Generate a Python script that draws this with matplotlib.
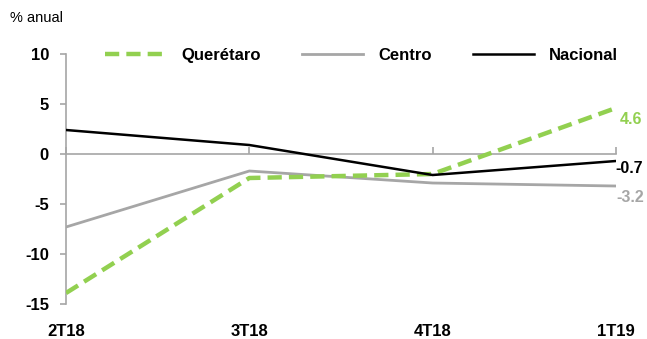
import matplotlib.pyplot as plt
from matplotlib import transforms

quarters = ['2T18', '3T18', '4T18', '1T19']
queretaro = [-13.9, -2.4, -2.0, 4.6]
centro = [-7.3, -1.7, -2.9, -3.2]
nacional = [2.4, 0.9, -2.1, -0.7]

green = '#92D050'
grey = '#A6A6A6'
font = ['Liberation Sans', 'DejaVu Sans']

plt.rcParams['font.family'] = font

fig = plt.figure(figsize=(6.47, 3.39), dpi=100)
ax = fig.add_axes([0.102, 0.1032, 0.850, 0.7375])

x = range(len(quarters))
ax.plot(x, queretaro, color=green, lw=3.2, dashes=(3.2, 1.6), label='Querétaro', zorder=3)
ax.plot(x, centro, color=grey, lw=2.0, label='Centro', zorder=2)
ax.plot(x, nacional, color='black', lw=1.8, label='Nacional', zorder=4)

ax.set_xlim(0, 3)
ax.set_ylim(-15, 10)
ax.set_yticks([10, 5, 0, -5, -10, -15])
ax.set_yticklabels(['10', '5', '0', '-5', '-10', '-15'], fontsize=12, fontweight='bold')
ax.tick_params(axis='y', direction='out', length=4.3, color=grey, width=1.2, pad=8)

# zero line carries the category ticks, labels sit under the plot
ax.spines['bottom'].set_position(('data', 0))
ax.spines['bottom'].set_color(grey)
ax.spines['bottom'].set_linewidth(1.2)
ax.spines['left'].set_color(grey)
ax.spines['left'].set_linewidth(1.2)
ax.spines['top'].set_visible(False)
ax.spines['right'].set_visible(False)
ax.set_xticks(list(x))
ax.set_xticklabels([])
ax.tick_params(axis='x', direction='in', length=5, color=grey, width=1.2)

trans = transforms.blended_transform_factory(ax.transData, ax.transAxes)
for i, q in enumerate(quarters):
    ax.text(i, -0.108, q, transform=trans, ha='center', va='center',
            fontsize=12, fontweight='bold')

# end-of-line values
ax.annotate(f'{queretaro[-1]:.1f}', (3, queretaro[-1]), xytext=(3, -8.6), textcoords='offset points',
            ha='left', va='center', color=green, fontsize=11.5, fontweight='bold', annotation_clip=False)
ax.annotate(f'{nacional[-1]:.1f}', (3, nacional[-1]), xytext=(-0.5, -5.4), textcoords='offset points',
            ha='left', va='center', color='black', fontsize=11.5, fontweight='bold', annotation_clip=False)
ax.annotate(f'{centro[-1]:.1f}', (3, centro[-1]), xytext=(0, -8.3), textcoords='offset points',
            ha='left', va='center', color=grey, fontsize=11.5, fontweight='bold', annotation_clip=False)

fig.text(0.015, 0.947, '% anual', fontsize=10.5, ha='left', va='center')

leg = ax.legend(loc='upper left', bbox_to_anchor=(0.043, 1.085), ncol=3, frameon=False,
                handlelength=3.7, columnspacing=2.45, handletextpad=0.9,
                prop={'family': font, 'weight': 'bold', 'size': 12})

fig.savefig('out.png', dpi=100)
